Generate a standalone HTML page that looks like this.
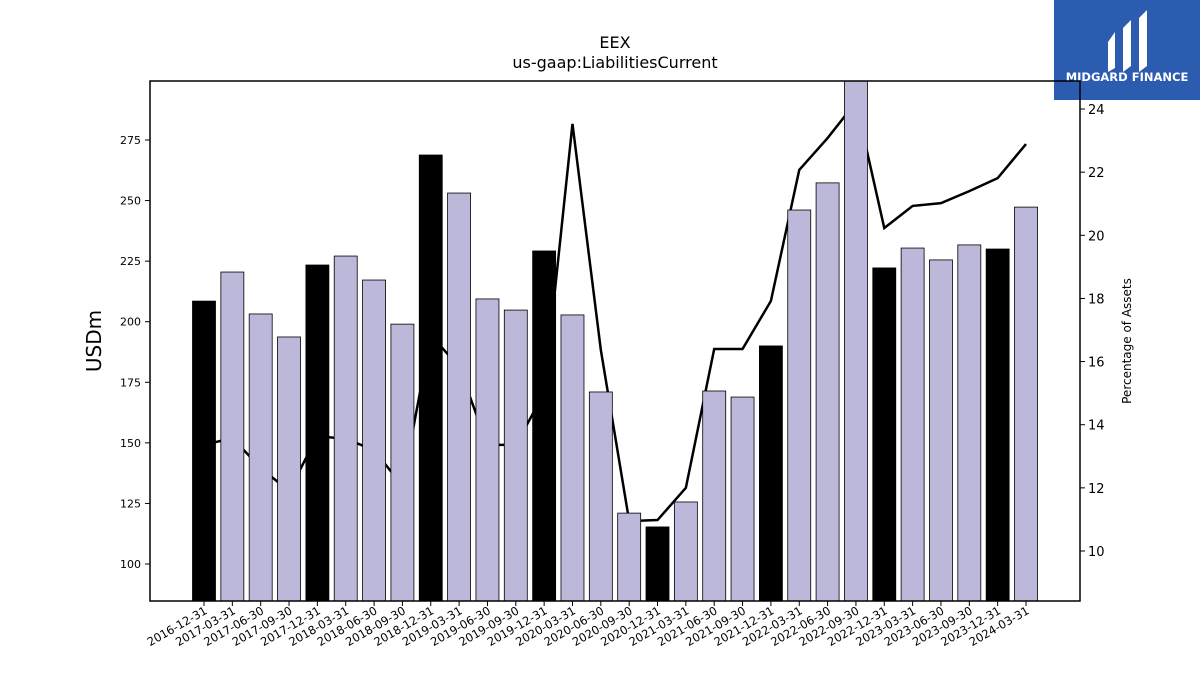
<!DOCTYPE html>
<html><head><meta charset="utf-8"><style>
body{margin:0;background:#fff;font-family:"Liberation Sans","DejaVu Sans",sans-serif}
svg text{font-family:"DejaVu Sans","Liberation Sans",sans-serif}
</style></head><body>
<svg id="c" width="1200" height="675" xmlns="http://www.w3.org/2000/svg">
<rect width="1200" height="675" fill="#fff"/>
<text x="615" y="48" font-size="16" text-anchor="middle">EEX</text>
<text x="615" y="68" font-size="16" text-anchor="middle">us-gaap:LiabilitiesCurrent</text>
<g>
<rect x="1054" y="0" width="146" height="100" fill="#2b5cb0"/>
<path d="M1108 42 L1115 32 L1115 68 L1108 72 Z M1123 28 L1131 20 L1131 66 L1123 72 Z M1139 18 L1147 10 L1147 66 L1139 72 Z" fill="#fff"/>
<text x="1127" y="81" font-size="11.5" font-weight="bold" fill="#fff" text-anchor="middle">MIDGARD FINANCE</text>
</g>
<g id="plot"></g>
<text transform="translate(101,341) rotate(-90)" font-size="20" text-anchor="middle">USDm</text>
<text transform="translate(1131,341) rotate(-90)" font-size="12" text-anchor="middle">Percentage of Assets</text>
</svg>
<script>
const categories=["2016-12-31","2017-03-31","2017-06-30","2017-09-30","2017-12-31","2018-03-31","2018-06-30","2018-09-30","2018-12-31","2019-03-31","2019-06-30","2019-09-30","2019-12-31","2020-03-31","2020-06-30","2020-09-30","2020-12-31","2021-03-31","2021-06-30","2021-09-30","2021-12-31","2022-03-31","2022-06-30","2022-09-30","2022-12-31","2023-03-31","2023-06-30","2023-09-30","2023-12-31","2024-03-31"];
const liabilities=[208.5,220.5,203.2,193.7,223.4,227.1,217.2,199,268.8,253.1,209.4,204.8,229.2,202.8,171,121,115.3,125.6,171.4,168.9,190,246.1,257.3,305,222.2,230.4,225.5,231.7,230,247.3];
const pctAssets=[13.36,13.58,12.63,11.9,13.64,13.55,13.2,12.06,16.84,15.83,13.36,13.36,15.0,23.53,16.37,10.95,10.98,12.0,16.4,16.4,17.92,22.07,23.08,24.22,20.23,20.93,21.02,21.4,21.81,22.89];
const leftTicks=[100,125,150,175,200,225,250,275];
const rightTicks=[10,12,14,16,18,20,22,24];
const NS="http://www.w3.org/2000/svg";
const L=150,R=1080,T=81,B=601;
const yL=v=>564-(v-100)*2.4229;
const yR=v=>551-(v-10)*31.57;
const xC=i=>204+i*(1026-204)/(categories.length-1);
const g=document.getElementById('plot');
function mk(t,a,p){const e=document.createElementNS(NS,t);for(const k in a)e.setAttribute(k,a[k]);(p||g).appendChild(e);return e;}
const clip=mk('clipPath',{id:'cp'});mk('rect',{x:L,y:T,width:R-L,height:B-T},clip);
let pts=pctAssets.map((v,i)=>xC(i)+','+yR(v)).join(' ');
const line=mk('polyline',{points:pts,fill:'none',stroke:'#000','stroke-width':2.5,'clip-path':'url(#cp)'});


liabilities.forEach((v,i)=>{
 const y=Math.max(yL(v),T);
 const b=mk('rect',{x:xC(i)-11.5,y:y,width:23,height:B-y,fill:(i%4===0)?'#000':'#bcb8d9',stroke:'#000','stroke-width':0.8});
 
 
});
const fr=mk('rect',{x:L,y:T,width:R-L,height:B-T,fill:'none',stroke:'#000','stroke-width':1.5});


leftTicks.forEach(v=>{const y=yL(v);mk('line',{x1:L-5,x2:L,y1:y,y2:y,stroke:'#000'});
 const t=mk('text',{x:L-9,y:y+4,'font-size':11,'text-anchor':'end'});t.textContent=v;
 
 });
rightTicks.forEach(v=>{const y=yR(v);mk('line',{x1:R,x2:R+5,y1:y,y2:y,stroke:'#000'});
 const t=mk('text',{x:R+8,y:y+5,'font-size':13});t.textContent=v;
 
 });
categories.forEach((c,i)=>{const x=xC(i);mk('line',{x1:x,x2:x,y1:B,y2:B+5,stroke:'#000'});
 const t=mk('text',{transform:`translate(${x+4},${B+12}) rotate(-30)`,'font-size':11.5,'text-anchor':'end'});t.textContent=c;
 
 });
</script>
</body></html>
